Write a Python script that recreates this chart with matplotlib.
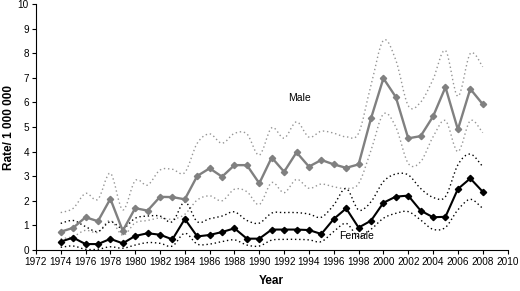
import numpy as np
import matplotlib
matplotlib.use("Agg")
import matplotlib.pyplot as plt
from matplotlib.path import Path
from matplotlib.patches import PathPatch

plt.rcParams['font.family'] = ['Liberation Sans', 'DejaVu Sans']

# --- data ---
years = list(range(1974, 2009))

male = [0.74, 0.9, 1.33, 1.17, 2.08, 0.78, 1.7, 1.6, 2.16, 2.15,
        2.06, 3.01, 3.32, 2.98, 3.45, 3.45, 2.71, 3.76, 3.18, 3.97,
        3.39, 3.66, 3.48, 3.34, 3.48, 5.35, 6.98, 6.22, 4.54, 4.63,
        5.43, 6.62, 4.9, 6.55, 5.93]
male_hi = [1.52, 1.69, 2.3, 2.06, 3.12, 1.63, 2.82, 2.64, 3.25, 3.28,
           3.15, 4.34, 4.72, 4.34, 4.74, 4.72, 3.86, 4.97, 4.55, 5.21,
           4.59, 4.83, 4.75, 4.6, 4.75, 6.7, 8.52, 7.72, 5.87, 6.01,
           6.94, 8.11, 6.25, 7.99, 7.45]
male_lo = [0.45, 0.55, 0.8, 0.72, 1.2, 0.6, 1.1, 1.2, 1.3, 1.25,
           1.45, 2.03, 2.2, 2.0, 2.47, 2.37, 1.85, 2.74, 2.33, 2.87,
           2.51, 2.68, 2.57, 2.5, 2.7, 4.05, 5.53, 5.0, 3.52, 3.59,
           4.6, 5.26, 4.0, 5.26, 4.77]

female = [0.34, 0.5, 0.24, 0.24, 0.45, 0.27, 0.57, 0.68, 0.62, 0.43,
          1.26, 0.55, 0.61, 0.73, 0.88, 0.46, 0.46, 0.83, 0.83, 0.83,
          0.81, 0.65, 1.26, 1.69, 0.91, 1.19, 1.92, 2.17, 2.21, 1.6,
          1.33, 1.35, 2.48, 2.91, 2.37]
female_hi = [1.08, 1.2, 0.95, 0.75, 1.15, 0.88, 1.29, 1.38, 1.38, 1.15,
             1.96, 1.15, 1.27, 1.38, 1.55, 1.2, 1.09, 1.5, 1.52, 1.52,
             1.46, 1.33, 1.83, 2.5, 1.63, 1.96, 2.78, 3.09, 3.05, 2.5,
             2.14, 2.17, 3.46, 3.9, 3.39]
female_lo = [0.11, 0.16, 0.03, 0.03, 0.13, 0.07, 0.2, 0.3, 0.27, 0.16,
             0.68, 0.24, 0.24, 0.34, 0.41, 0.2, 0.16, 0.4, 0.43, 0.43,
             0.41, 0.34, 0.75, 1.08, 0.54, 0.84, 1.29, 1.49, 1.56, 1.22,
             0.84, 0.92, 1.63, 2.06, 1.69]

xticks = list(range(1972, 2011, 2))
yticks = list(range(0, 11))


def smooth_path(x, y):
    # Excel-style smoothed line: Catmull-Rom segments as cubic Beziers
    p = np.column_stack([x, y]).astype(float)
    pad = np.vstack([p[0], p, p[-1]])
    verts = [p[0]]
    codes = [Path.MOVETO]
    for i in range(1, len(pad) - 2):
        p0, p1, p2, p3 = pad[i - 1], pad[i], pad[i + 1], pad[i + 2]
        verts += [p1 + (p2 - p0) / 6, p2 - (p3 - p1) / 6, p2]
        codes += [Path.CURVE4] * 3
    return Path(verts, codes)


fig = plt.figure(figsize=(5.2, 2.91), dpi=100)
ax = fig.add_axes([0.069, 0.141, 0.907, 0.845])

dot = (0, (1, 2))
for lo, hi, col in [(male_lo, male_hi, '#959595'), (female_lo, female_hi, 'black')]:
    for s in (lo, hi):
        ax.add_patch(PathPatch(smooth_path(years, s), fill=False,
                               edgecolor=col, lw=1.0, linestyle=dot))

ax.plot(years, male, color='#808080', lw=1.7, marker='D', ms=3.2)
ax.plot(years, female, color='black', lw=1.5, marker='D', ms=3.2)

ax.text(1993.2, 6.2, 'Male', fontsize=7.5, ha='center', va='center')
ax.text(1997.8, 0.55, 'Female', fontsize=7.5, ha='center', va='center')

ax.set_xlim(1972, 2010)
ax.set_ylim(0, 10)
ax.set_xticks(xticks)
ax.set_yticks(yticks)
ax.tick_params(labelsize=7.2, length=3, width=0.8, pad=2)
for side in ('top', 'right'):
    ax.spines[side].set_visible(False)
for side in ('left', 'bottom'):
    ax.spines[side].set_linewidth(0.8)

ax.set_xlabel('Year', fontsize=8.5, fontweight='bold', labelpad=6)
ax.set_ylabel('Rate/ 1 000 000', fontsize=8.5, fontweight='bold')
ax.yaxis.set_label_coords(-0.045, 0.5)

fig.savefig('out.png', dpi=100)
